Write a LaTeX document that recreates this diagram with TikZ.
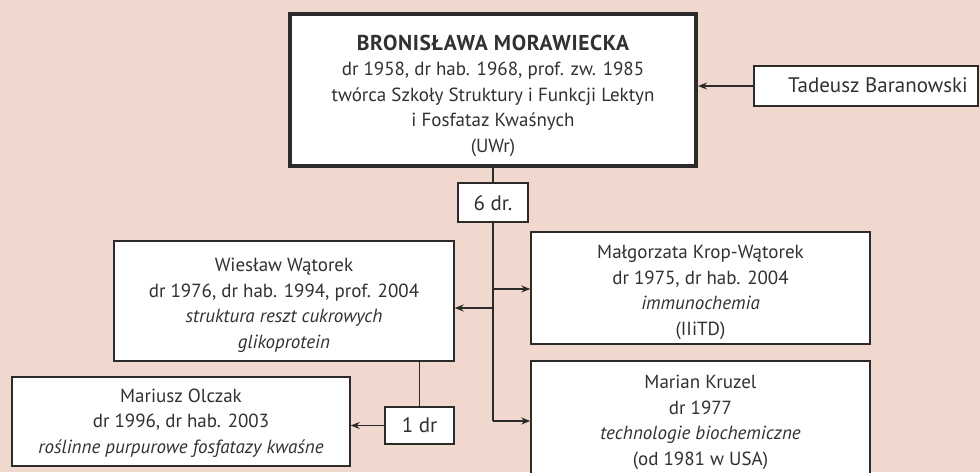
\documentclass[tikz,border=0pt]{standalone}
\usepackage{fontspec}
\setmainfont{PT Sans}
\usetikzlibrary{arrows.meta}
\definecolor{bg}{RGB}{240,216,206}
\definecolor{ink}{RGB}{45,42,42}
\definecolor{txt}{RGB}{50,48,48}
\begin{document}
\begin{tikzpicture}[x=1pt,y=-1pt,
  box/.style={draw=ink,fill=white,line width=1.4pt,rectangle,inner sep=0pt},
  bigbox/.style={draw=ink,fill=white,line width=4pt,rectangle,inner sep=0pt},
  words/.style={text=txt,align=center,inner sep=0pt,font=\fontsize{19}{25.5}\selectfont},
  big/.style={words,font=\fontsize{21}{25.5}\selectfont},
  conn/.style={draw=ink,line width=1.3pt},
  arr/.style={conn,-{Stealth[length=9pt,width=7pt]}}]
\fill[bg] (0,0) rectangle (980,472);
\useasboundingbox (0,0) rectangle (980,472);
% boxes
\node[bigbox,minimum width=406pt,minimum height=152pt] (main) at (493,89.5) {};
\node[box,minimum width=224pt,minimum height=40pt] (tad) at (866,86) {};
\node[box,minimum width=70pt,minimum height=39pt] (six) at (493,202.5) {};
\node[box,minimum width=340pt,minimum height=120pt] (wat) at (284,301) {};
\node[box,minimum width=339pt,minimum height=112pt] (krop) at (700.5,288) {};
\node[box,minimum width=339pt,minimum height=120pt] (kru) at (700.5,421) {};
\node[box,minimum width=338pt,minimum height=89pt] (olc) at (181,421.5) {};
\node[box,minimum width=69pt,minimum height=37pt] (one) at (419.5,425.5) {};
% texts (anchored at the baseline of the last line)
\node[words,anchor=base] (mainT) at (493,152) {{\fontsize{21.5}{25.5}\selectfont\bfseries\addfontfeature{LetterSpace=3}BRONISŁAWA MORAWIECKA}\\dr 1958, dr hab. 1968, prof. zw. 1985\\twórca Szkoły Struktury i Funkcji Lektyn\\i Fosfataz Kwaśnych\\(UWr)};
\node[big,anchor=base] (tadT) at (878,92) {Tadeusz Baranowski};
\node[big,anchor=base] (sixT) at (493,210) {6 dr.};
\node[words,anchor=base] (watT) at (284,348) {Wiesław Wątorek\\dr 1976, dr hab. 1994, prof. 2004\\\textit{struktura reszt cukrowych}\\\textit{glikoprotein}};
\node[words,anchor=base] (kropT) at (700.5,335) {Małgorzata Krop-Wątorek\\dr 1975, dr hab. 2004\\\textit{immunochemia}\\(IIiTD)};
\node[words,anchor=base] (kruT) at (700.5,465) {Marian Kruzel\\dr 1977\\\textit{technologie biochemiczne}\\(od 1981 w USA)};
\node[words,anchor=base] (olcT) at (181,453) {Mariusz Olczak\\dr 1996, dr hab. 2003\\\textit{roślinne purpurowe fosfatazy kwaśne}};
\node[big,anchor=base] (oneT) at (419.5,432) {1 dr};
% connectors
\coordinate (j1) at (493,308);
\coordinate (j2) at (493,289);
\coordinate (j3) at (493,421);
\draw[arr] (tad.west) -- (main.east |- tad.west);
\draw[conn] (main.south -| six.north) -- (six.north);
\draw[conn] (six.south) -- (j3);
\draw[arr] (j2) -- (krop.west |- j2);
\draw[arr] (j3) -- (kru.west |- j3);
\draw[arr] (j1) -- (wat.east |- j1);
\draw[conn] (wat.south -| one.north) -- (one.north);
\draw[arr] (one.west) -- (olc.east |- one.west);
\end{tikzpicture}
\end{document}
